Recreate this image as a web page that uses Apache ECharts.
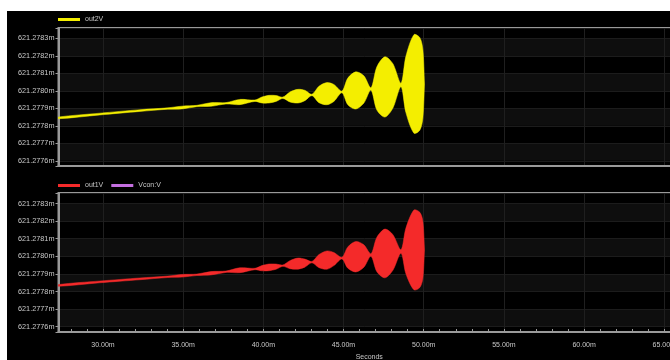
<!DOCTYPE html>
<html><head><meta charset="utf-8">
<script src="https://cdn.jsdelivr.net/npm/echarts@6/dist/echarts.min.js"></script>
<style>html,body{margin:0;background:#fff;} #c{position:absolute;left:7px;top:11px;width:663px;height:349px;}</style>
</head><body><div id="c"></div>
<script>
// time in ms
const timeMs = [27.23, 29.81, 32.31, 34.05, 34.93, 35.86, 36.73, 37.67, 38.54, 39.48, 39.91, 40.35, 40.79, 41.22, 41.66, 42.16, 42.59, 43.03, 43.47, 43.97, 44.40, 44.90, 45.27, 45.77, 46.27, 46.71, 47.08, 47.58, 48.08, 48.58, 48.89, 49.39, 49.76, 49.95, 50.05];
// out2V (mV): envelope centre and half-amplitude
const out2Center = [621.2778454, 621.2778673, 621.2778874, 621.2778989, 621.2779047, 621.2779133, 621.2779220, 621.2779289, 621.2779363, 621.2779438, 621.2779479, 621.2779525, 621.2779565, 621.2779605, 621.2779651, 621.2779697, 621.2779737, 621.2779766, 621.2779795, 621.2779841, 621.2779881, 621.2779939, 621.2779968, 621.2780025, 621.2780083, 621.2780111, 621.2780140, 621.2780227, 621.2780284, 621.2780342, 621.2780370, 621.2780399, 621.2780399, 621.2780399, 621.2780399];
const out2Amp = [0.0000050, 0.0000050, 0.0000050, 0.0000040, 0.0000080, 0.0000040, 0.0000105, 0.0000040, 0.0000150, 0.0000040, 0.0000170, 0.0000219, 0.0000170, 0.0000040, 0.0000285, 0.0000391, 0.0000295, 0.0000040, 0.0000470, 0.0000633, 0.0000485, 0.0000050, 0.0000765, 0.0001064, 0.0000777, 0.0000070, 0.0001237, 0.0001726, 0.0001266, 0.0000100, 0.0001611, 0.0002819, 0.0002647, 0.0001956, 0];
// out1V (mV)
const out1Center = [621.2778346, 621.2778548, 621.2778721, 621.2778836, 621.2778894, 621.2778952, 621.2779038, 621.2779125, 621.2779211, 621.2779280, 621.2779326, 621.2779373, 621.2779413, 621.2779471, 621.2779528, 621.2779586, 621.2779615, 621.2779672, 621.2779730, 621.2779788, 621.2779845, 621.2779903, 621.2779932, 621.2779978, 621.2780018, 621.2780076, 621.2780105, 621.2780163, 621.2780220, 621.2780278, 621.2780307, 621.2780365, 621.2780365, 621.2780365, 621.2780365];
const out1Amp = [0.0000050, 0.0000050, 0.0000050, 0.0000040, 0.0000075, 0.0000040, 0.0000095, 0.0000040, 0.0000140, 0.0000040, 0.0000148, 0.0000190, 0.0000148, 0.0000040, 0.0000228, 0.0000317, 0.0000228, 0.0000040, 0.0000372, 0.0000519, 0.0000372, 0.0000050, 0.0000606, 0.0000865, 0.0000634, 0.0000070, 0.0000980, 0.0001384, 0.0001009, 0.0000100, 0.0001298, 0.0002266, 0.0002134, 0.0001615, 0];
const vconData = [];
const xRange = [27.23, 65.98];
const yRange = [621.27757, 621.27836];

const YEL = '#f4ee00', RED = '#f42a2a', PUR = '#c46fe0';
const txt = '#c8c8c8';
const font = 'Liberation Sans';

function xAxisCfg(gi, showLabels) {
  return {
    type: 'value', gridIndex: gi, min: xRange[0], max: xRange[1],
    minInterval: 5, maxInterval: 5, splitNumber: 8,
    axisLine: { show: true, lineStyle: { color: '#9a9a9a', width: 2 } },
    axisTick: { show: showLabels, inside: true, length: 3, lineStyle: { color: '#9a9a9a' } },
    minorTick: { show: showLabels, splitNumber: 5, length: 3, lineStyle: { color: '#9a9a9a' } },
    axisLabel: {
      show: showLabels, color: txt, fontSize: 7, fontFamily: font, margin: 10,
      formatter: v => (Math.abs(v / 5 - Math.round(v / 5)) < 1e-6 ? v.toFixed(2) + 'm' : '')
    },
    splitLine: { show: true, lineStyle: { color: '#1f1f1f', width: 1 } },
    name: showLabels ? 'Seconds' : '', nameLocation: 'middle', nameGap: 22,
    nameTextStyle: { color: txt, fontSize: 7, fontFamily: font }
  };
}
function yAxisCfg(gi) {
  return {
    type: 'value', gridIndex: gi, min: yRange[0], max: yRange[1],
    minInterval: 0.0001, maxInterval: 0.0001, splitNumber: 8,
    axisLine: { show: true, lineStyle: { color: '#9a9a9a', width: 2 } },
    axisTick: { show: true, length: 3, lineStyle: { color: '#9a9a9a' } },
    axisLabel: {
      color: txt, fontSize: 7.3, fontFamily: font, margin: 4,
      formatter: v => (Math.abs(v * 10000 - Math.round(v * 10000)) < 1e-3 ? v.toFixed(4) + 'm' : '')
    },
    splitLine: { show: true, lineStyle: { color: '#1c1c1c' } },
    splitArea: { show: true, areaStyle: { color: ['#000000', '#0e0e0e'] } },
    name: 'Volts', nameLocation: 'middle', nameGap: 47, nameRotate: 90,
    nameTextStyle: { color: txt, fontSize: 7, fontFamily: font }
  };
}
function envSeries(name, col, ai, c, a) {
  return {
    name: name, type: 'custom', xAxisIndex: ai, yAxisIndex: ai, coordinateSystem: 'cartesian2d',
    data: [0], itemStyle: { color: col }, silent: true, z: 3, clip: true,
    renderItem: function (params, api) {
      const up = timeMs.map((t, i) => api.coord([t, c[i] + a[i]]));
      const lo = timeMs.map((t, i) => api.coord([t, c[i] - a[i]])).reverse();
      return { type: 'polygon', shape: { points: up.concat(lo), smooth: 0.3 },
        style: { fill: col, stroke: col, lineWidth: 0.5 } };
    }
  };
}

const chart = echarts.init(document.getElementById('c'), null, { renderer: 'canvas' });
chart.setOption({
  animation: false,
  backgroundColor: '#000',
  grid: [
    { left: 51.5, top: 17, width: 621.5, height: 138, show: true, borderColor: '#9a9a9a', borderWidth: 2, backgroundColor: 'transparent', outerBoundsMode: 'none', containLabel: false },
    { left: 51.5, top: 182, width: 621.5, height: 139, show: true, borderColor: '#9a9a9a', borderWidth: 2, backgroundColor: 'transparent', outerBoundsMode: 'none', containLabel: false }
  ],
  legend: [
    { data: ['out2V'], left: 51, top: 5, padding: 0, itemWidth: 22, itemHeight: 3, icon: 'rect', itemGap: 8,
      textStyle: { color: txt, fontSize: 7, fontFamily: font } },
    { data: ['out1V', 'Vcon:V'], left: 51, top: 171, padding: 0, itemWidth: 22, itemHeight: 3, icon: 'rect', itemGap: 8,
      textStyle: { color: txt, fontSize: 7, fontFamily: font } }
  ],
  xAxis: [xAxisCfg(0, false), xAxisCfg(1, true)],
  yAxis: [yAxisCfg(0), yAxisCfg(1)],
  series: [
    envSeries('out2V', YEL, 0, out2Center, out2Amp),
    envSeries('out1V', RED, 1, out1Center, out1Amp),
    { name: 'Vcon:V', type: 'line', xAxisIndex: 1, yAxisIndex: 1, data: vconData, symbol: 'none',
      lineStyle: { color: PUR }, itemStyle: { color: PUR } }
  ]
});
</script></body></html>
